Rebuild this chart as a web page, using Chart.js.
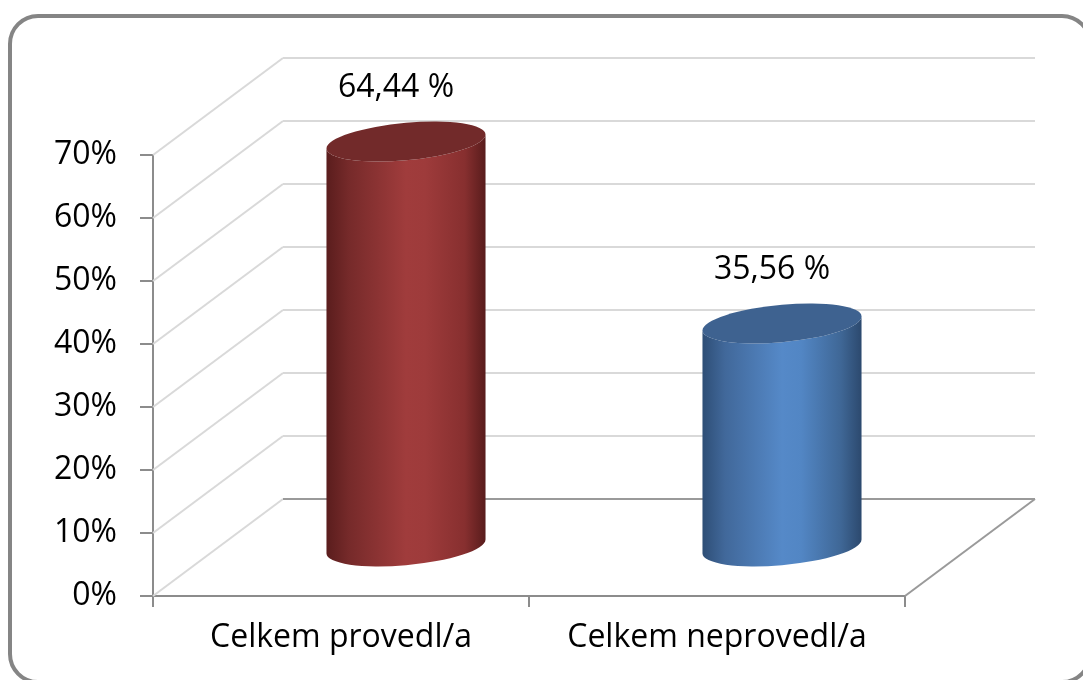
<!DOCTYPE html>
<html>
<head>
<meta charset="utf-8">
<script src="https://cdn.jsdelivr.net/npm/chart.js@4/dist/chart.umd.min.js"></script>
<style>
  html, body { margin: 0; padding: 0; background: #ffffff; overflow: hidden; }
  canvas { display: block; }
</style>
</head>
<body>
<canvas id="chart" width="1083" height="680"></canvas>
<script>
// Categories and their shares (percent)
const categories = ['Celkem provedl/a', 'Celkem neprovedl/a'];
const shares = [64.44, 35.56];
const yTicks = [0, 10, 20, 30, 40, 50, 60, 70];
const yTickLabels = ['0%', '10%', '20%', '30%', '40%', '50%', '60%', '70%'];

// Cylinder shading: side gradient stops and cap colour per bar
const sideGradients = [
  ['#5a1d1d', '#762a2a', '#a03c3c', '#9e3b3b', '#872f2f', '#581c1c'],
  ['#2e4e76', '#41689a', '#5589c8', '#5286c4', '#3f6796', '#2c496e']
];
const capColors = ['#722a2a', '#3e6290'];

// 3D projection of the plot box
const DEPTH_X = 130;
const DEPTH_Y = -97;
const SHEAR = -0.088;
const CAP_RY = 18.7;

const FONT = { family: "'Open Sans', sans-serif", size: 32 };
const AXIS_GRAY = '#8c8c8c';
const WALL_GRAY = '#d9d9d9';

function line(ctx, x1, y1, x2, y2) {
  ctx.beginPath();
  ctx.moveTo(x1, y1);
  ctx.lineTo(x2, y2);
  ctx.stroke();
}

const framePlugin = {
  id: 'frame',
  beforeDraw(chart) {
    const ctx = chart.ctx;
    ctx.save();
    ctx.fillStyle = '#ffffff';
    ctx.fillRect(0, 0, chart.width, chart.height);
    ctx.strokeStyle = '#858585';
    ctx.lineWidth = 4;
    ctx.beginPath();
    ctx.roundRect(10, 16, 1080, 666, 28);
    ctx.stroke();
    ctx.restore();
  }
};

const wallsPlugin = {
  id: 'walls',
  beforeDatasetsDraw(chart) {
    const ctx = chart.ctx;
    const { left, right, bottom } = chart.chartArea;
    const ys = chart.scales.y;
    ctx.save();
    ctx.lineWidth = 2;
    ctx.strokeStyle = WALL_GRAY;
    yTicks.forEach(v => {
      const py = Math.round(ys.getPixelForValue(v));
      line(ctx, left, py, left + DEPTH_X, py + DEPTH_Y);
      if (v > 0) line(ctx, left + DEPTH_X, py + DEPTH_Y, right + DEPTH_X, py + DEPTH_Y);
    });
    ctx.strokeStyle = '#9a9a9a';
    const by = Math.round(bottom);
    line(ctx, left + DEPTH_X, by + DEPTH_Y, right + DEPTH_X, by + DEPTH_Y);
    line(ctx, right, by, right + DEPTH_X, by + DEPTH_Y);
    ctx.restore();
  }
};

const cylinderPlugin = {
  id: 'cylinders',
  afterDatasetsDraw(chart) {
    const ctx = chart.ctx;
    const meta = chart.getDatasetMeta(0);
    meta.data.forEach((bar, i) => {
      const p = bar.getProps(['x', 'y', 'base', 'width'], true);
      const cx = p.x + DEPTH_X / 2;
      const yTop = p.y + DEPTH_Y / 2;
      const yBot = p.base + DEPTH_Y / 2;
      const rx = p.width / 2;
      ctx.save();
      ctx.transform(1, SHEAR, 0, 1, cx, 0);
      const g = ctx.createLinearGradient(-rx, 0, rx, 0);
      const stops = [0, 0.14, 0.5, 0.62, 0.87, 1];
      sideGradients[i].forEach((c, k) => g.addColorStop(stops[k], c));
      ctx.fillStyle = g;
      ctx.beginPath();
      ctx.moveTo(-rx, yTop);
      ctx.lineTo(-rx, yBot);
      ctx.ellipse(0, yBot, rx, CAP_RY, 0, Math.PI, 0, true);
      ctx.lineTo(rx, yTop);
      ctx.ellipse(0, yTop, rx, CAP_RY, 0, 0, Math.PI, false);
      ctx.closePath();
      ctx.fill();
      ctx.fillStyle = capColors[i];
      ctx.beginPath();
      ctx.ellipse(0, yTop, rx, CAP_RY, 0, 0, Math.PI * 2);
      ctx.fill();
      ctx.restore();

      // value label above the cylinder
      const ext = Math.sqrt(CAP_RY * CAP_RY + (SHEAR * rx) * (SHEAR * rx));
      ctx.save();
      ctx.font = `${FONT.size}px ${FONT.family}`;
      ctx.fillStyle = '#000000';
      ctx.textAlign = 'center';
      ctx.textBaseline = 'middle';
      const txt = shares[i].toFixed(2).replace('.', ',') + ' %';
      ctx.fillText(txt, cx - 10, yTop - ext - 34);
      ctx.restore();
    });
  }
};

new Chart(document.getElementById('chart'), {
  type: 'bar',
  data: {
    labels: categories,
    datasets: [{
      data: shares,
      backgroundColor: 'rgba(0,0,0,0)',
      borderWidth: 0,
      categoryPercentage: 1,
      barPercentage: 0.423
    }]
  },
  options: {
    responsive: false,
    animation: false,
    devicePixelRatio: 1,
    layout: { padding: { left: 0, top: 155, right: 178, bottom: 0 } },
    plugins: { legend: { display: false }, tooltip: { enabled: false } },
    scales: {
      x: {
        offset: true,
        afterFit(scale) { scale.height = 84; },
        grid: { offset: true, drawOnChartArea: false, drawTicks: true, tickLength: 11, color: AXIS_GRAY, lineWidth: 2 },
        border: { display: true, color: AXIS_GRAY, width: 2 },
        ticks: { font: FONT, color: '#000000', padding: 12, maxRotation: 0 }
      },
      y: {
        min: 0,
        max: 70,
        afterFit(scale) { scale.width = 153; },
        afterBuildTicks(scale) { scale.ticks = yTicks.map(v => ({ value: v })); },
        grid: { drawOnChartArea: false, drawTicks: true, tickLength: 13, color: AXIS_GRAY, lineWidth: 2 },
        border: { display: true, color: AXIS_GRAY, width: 2 },
        ticks: {
          font: FONT,
          color: '#000000',
          padding: 23,
          callback: (v, i) => yTickLabels[i]
        }
      }
    }
  },
  plugins: [framePlugin, wallsPlugin, cylinderPlugin]
});
</script>
</body>
</html>
